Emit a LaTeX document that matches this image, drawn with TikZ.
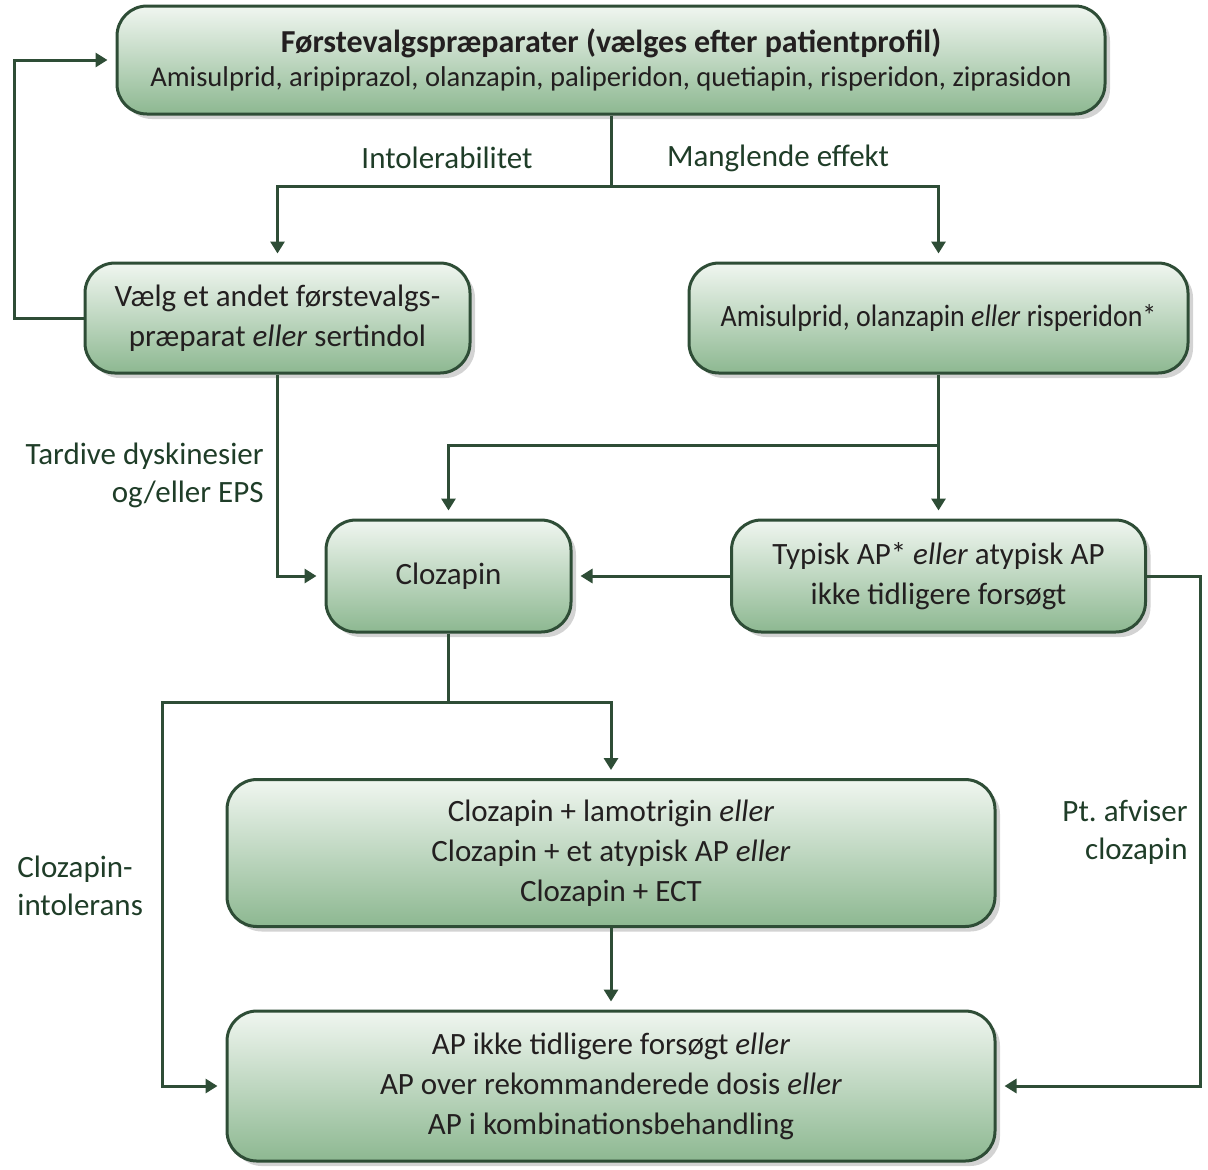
\documentclass[tikz,border=0pt]{standalone}
\usepackage{fontspec}
\setmainfont{Carlito}
\newfontfamily\narrowfont[FakeStretch=0.9]{Carlito}
\usetikzlibrary{arrows.meta, shadows}
\definecolor{linegreen}{HTML}{2E4D36}
\definecolor{labelgreen}{HTML}{1F3D28}
\definecolor{boxtext}{HTML}{231F20}
\definecolor{boxtop}{HTML}{F0F6F0}
\definecolor{boxbottom}{HTML}{8DB891}
\tikzset{
  flow box/.style={
    rounded corners=15pt,
    draw=linegreen,
    line width=1.5pt,
    top color=boxtop,
    bottom color=boxbottom,
    drop shadow={opacity=0.35, shadow xshift=2.5pt, shadow yshift=-2.5pt},
    align=center,
    text=boxtext,
    inner sep=0pt,
    font=\fontsize{15.5}{20}\selectfont,
  },
  flow label/.style={
    text=labelgreen,
    inner sep=0pt,
    font=\fontsize{15.5}{19}\selectfont,
  },
  flow line/.style={draw=linegreen, line width=1.5pt},
  flow arrow/.style={flow line, -{Triangle[length=6pt, width=7pt]}, shorten >=4pt},
}

\begin{document}
\frenchspacing
\begin{tikzpicture}[x=0.5pt, y=-0.5pt]
        \useasboundingbox (0,0) rectangle (1208,1169);

        \node[flow box, minimum width=494pt, minimum height=54pt, font=\fontsize{14.3}{17}\selectfont] (top) at (611,60)
          {{\fontsize{16}{17}\selectfont\bfseries Førstevalgspræparater (vælges efter patientprofil)}\\
           Amisulprid, aripiprazol, olanzapin, paliperidon, quetiapin, risperidon, ziprasidon};
        \node[flow box, minimum width=192.5pt, minimum height=55pt] (alt)  at (277.5,318)
          {Vælg et andet førstevalgs-\\præparat \textit{eller} sertindol};
        \node[flow box, minimum width=249.5pt, minimum height=55pt] (ami)  at (938.5,318)
          {\narrowfont Amisulprid, olanzapin \textit{eller} risperidon*};
        \node[flow box, minimum width=122.5pt, minimum height=56pt] (cloz) at (448.5,576) {Clozapin};
        \node[flow box, minimum width=207pt,   minimum height=56pt] (typ)  at (938.5,576)
          {Typisk AP* \textit{eller} atypisk AP\\ikke tidligere forsøgt};
        \node[flow box, minimum width=384pt,   minimum height=73.5pt] (comb) at (611,853)
          {Clozapin + lamotrigin \textit{eller}\\Clozapin + et atypisk AP \textit{eller}\\Clozapin + ECT};
        \node[flow box, minimum width=384pt,   minimum height=75pt] (last) at (611,1086)
          {AP ikke tidligere forsøgt \textit{eller}\\AP over rekommanderede dosis \textit{eller}\\AP i kombinationsbehandling};

        \node[flow label]                          (intolerab) at (447,158)  {Intolerabilitet};
        \node[flow label]                          (noeffect)  at (778,158)  {Manglende effekt};
        \node[flow label, anchor=east, align=right] (tardive)  at (264,475)  {Tardive dyskinesier\\og/eller EPS};
        \node[flow label, anchor=west, align=left]  (clozint)  at (17,886)   {Clozapin-\\intolerans};
        \node[flow label, anchor=east, align=right] (refusal)  at (1188,832) {Pt. afviser\\clozapin};

        \coordinate (split)  at (611,186);
        \coordinate (back)   at (14,318);
        \coordinate (fork)   at (938.5,445);
        \coordinate (refuse) at (1200,576);
        \coordinate (cfork)  at (448.5,702);
        \coordinate (intol)  at (162,702);

        \draw[flow line]  (top) -- (split);
        \draw[flow arrow] (split) -| (alt);
        \draw[flow arrow] (split) -| (ami);
        \draw[flow arrow] (alt.west) -- (back) |- (top.west);

        \draw[flow arrow] (alt.south) |- (cloz.west);
        \draw[flow arrow] (ami) -- (typ);
        \draw[flow arrow] (fork) -| (cloz);
        \draw[flow arrow] (typ) -- (cloz);
        \draw[flow arrow] (typ.east) -- (refuse) |- (last.east);

        \draw[flow line]  (cloz) -- (cfork);
        \draw[flow arrow] (cfork) -| (comb);
        \draw[flow arrow] (cfork) -- (intol) |- (last.west);
        \draw[flow arrow] (comb) -- (last);
\end{tikzpicture}
\end{document}
